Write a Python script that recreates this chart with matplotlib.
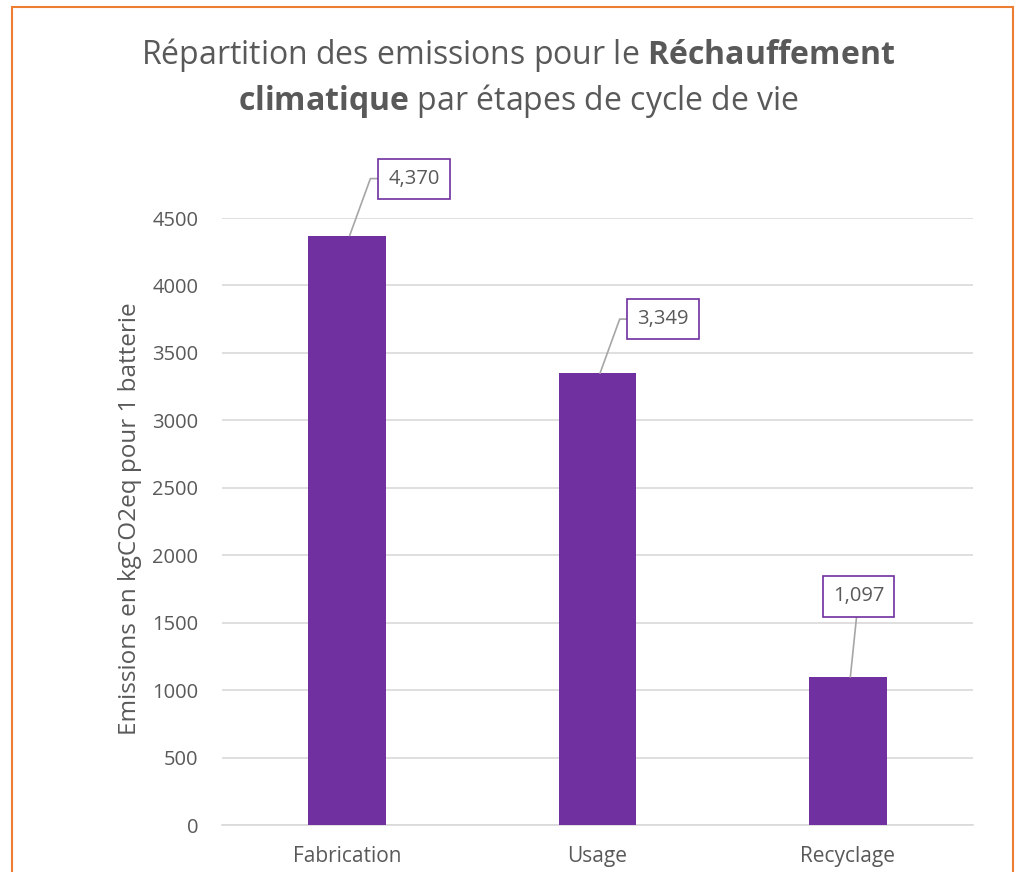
import numpy as np
import matplotlib.pyplot as plt
from matplotlib.patches import Rectangle

plt.rcParams['font.family'] = ['Open Sans', 'DejaVu Sans']
plt.rcParams['mathtext.fontset'] = 'custom'
plt.rcParams['mathtext.rm'] = 'Open Sans'
plt.rcParams['mathtext.bf'] = 'Open Sans:bold'

categories = ["Fabrication", "Usage", "Recyclage"]
values = [4370, 3349, 1097]
labels = ["4,370", "3,349", "1,097"]
yticks = [0, 500, 1000, 1500, 2000, 2500, 3000, 3500, 4000, 4500]

PURPLE = "#7030A0"
GREY_TXT = "#595959"
GRID = "#D9D9D9"

fig = plt.figure(figsize=(10.18, 8.72), dpi=100)
# orange frame (bottom edge is cut off in the reference)
fig.add_artist(Rectangle((12 / 1018, -0.05), (1013 - 12) / 1018, 1 - 7 / 872 + 0.05,
                         transform=fig.transFigure, fill=False, edgecolor="#ED7D31", lw=1.5))

ax = fig.add_axes([222 / 1018, 1 - 825 / 872, (973 - 222) / 1018, (825 - 218) / 872])
x = np.arange(len(categories))
ax.bar(x, values, width=0.31, color=PURPLE, zorder=3)
ax.set_xlim(-0.5, 2.5)
ax.set_ylim(0, 4500)
ax.set_yticks(yticks)
ax.set_xticks(x, categories)
ax.grid(axis="y", color=GRID, lw=1.2, zorder=0)
ax.set_axisbelow(True)
for s in ["top", "right", "left"]:
    ax.spines[s].set_visible(False)
ax.spines["bottom"].set_color(GRID)
ax.spines["bottom"].set_linewidth(1.2)
ax.tick_params(axis="y", length=0, labelsize=14.5, colors=GREY_TXT, pad=17)
ax.tick_params(axis="x", length=0, labelsize=15, colors=GREY_TXT, pad=15)
ax.set_ylabel("Emissions en kgCO2eq pour 1 batterie", fontsize=17.5, color=GREY_TXT)
ax.yaxis.set_label_coords(-0.106, 0.505)

# data labels with leader lines (offsets in points)
offsets = [(28, 41), (27, 39), (6, 58)]
for xi, v, lab, (dx, dy) in zip(x, values, labels, offsets):
    ax.annotate(lab, xy=(xi + 0.01, v), xytext=(dx, dy), textcoords="offset points",
                ha="left" if dx > 10 else "center", va="center",
                fontsize=14.5, color=GREY_TXT, annotation_clip=False,
                bbox=dict(boxstyle="square,pad=0.5", fc="white", ec=PURPLE, lw=1.2),
                arrowprops=dict(arrowstyle="-", color="#A6A6A6", lw=1.2,
                                connectionstyle="angle,angleA=0,angleB=70,rad=0" if dx > 10 else "arc3",
                                shrinkA=0, shrinkB=0))

fig.text(0.509, 1 - 55 / 872,
         r"Répartition des emissions pour le $\mathbf{Réchauffement}$",
         ha="center", va="center", fontsize=23, color=GREY_TXT)
fig.text(0.509, 1 - 101 / 872,
         r"$\mathbf{climatique}$ par étapes de cycle de vie",
         ha="center", va="center", fontsize=23, color=GREY_TXT)

fig.savefig("out.png", dpi=100)
